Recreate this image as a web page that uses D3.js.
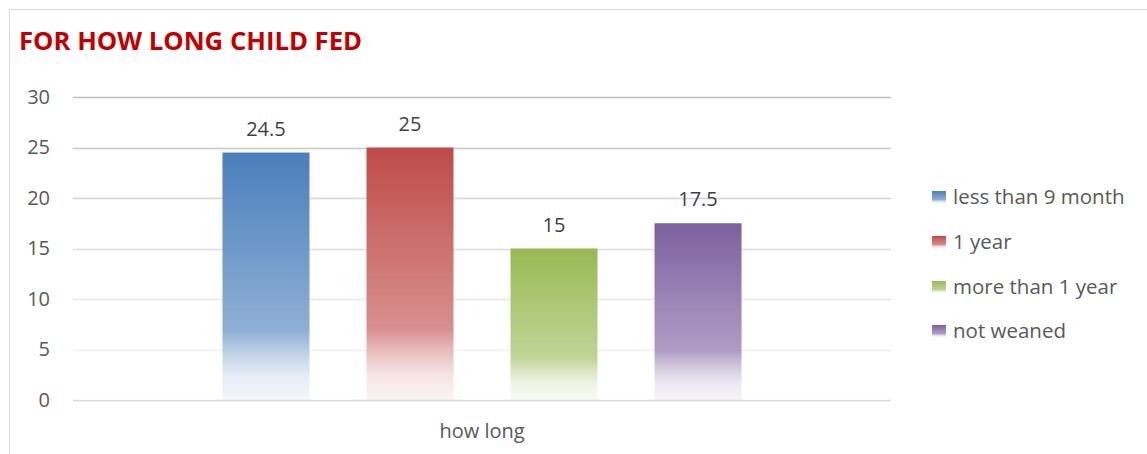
<!DOCTYPE html>
<html>
<head>
<meta charset="utf-8">
<script src="https://cdn.jsdelivr.net/npm/d3@7"></script>
<style>
  html, body { margin: 0; padding: 0; background: #fff; }
  svg { display: block; }
</style>
</head>
<body>
<svg id="chart" width="1147" height="454"></svg>
<script>
// Data
const categories = ["how long"];
const seriesNames = ["less than 9 month", "1 year", "more than 1 year", "not weaned"];
const seriesValues = [24.5, 25, 15, 17.5];
const seriesColors = ["#4a7ebb", "#be4b48", "#98b954", "#7d60a0"];
const yTicks = [0, 5, 10, 15, 20, 25, 30];

const svg = d3.select("#chart");
const W = 1147, H = 454;
const font = "'Open Sans', sans-serif";
const labelSize = 20;

// Chart frame
svg.append("path")
  .attr("d", `M9.5,${H} V9.5 H${W}`)
  .attr("fill", "none")
  .attr("stroke", "#d9d9d9")
  .attr("stroke-width", 1);

// Title
svg.append("text")
  .attr("x", 19).attr("y", 50)
  .attr("font-family", font)
  .attr("font-weight", 700)
  .attr("font-size", 25.7)
  .attr("fill", "#c00000")
  .text("FOR HOW LONG CHILD FED");

const plot = { left: 73, right: 891, top: 97, bottom: 400 };

const y = d3.scaleLinear().domain([0, 30]).range([plot.bottom, plot.top]);
const x0 = d3.scaleBand().domain(categories).range([plot.left, plot.right]).paddingOuter(0.288).paddingInner(0);
const x1 = d3.scaleBand().domain(seriesNames).range([0, x0.bandwidth()]).paddingInner(0.396).paddingOuter(0);

// Gridlines, shading from darker at the top to lighter near the base
const gridColor = d3.scaleLinear().domain([30, 5]).range(["#bfbfbf", "#f0f0f0"]);
const grid = svg.append("g");
grid.selectAll("line").data(yTicks.filter(t => t > 0)).join("line")
  .attr("x1", plot.left).attr("x2", plot.right)
  .attr("y1", d => Math.round(y(d)) + 0.5).attr("y2", d => Math.round(y(d)) + 0.5)
  .attr("stroke", d => gridColor(d))
  .attr("stroke-width", 1.5);

// Y axis labels
const yAxis = d3.axisLeft(y).tickValues(yTicks).tickSize(0).tickPadding(0);
const gy = svg.append("g").attr("transform", `translate(50,0)`).call(yAxis);
gy.select(".domain").remove();
gy.selectAll("text")
  .attr("font-family", font).attr("font-size", labelSize).attr("fill", "#595959");

// Gradients for bars
const defs = svg.append("defs");
seriesColors.forEach((c, i) => {
  const g = defs.append("linearGradient").attr("id", "grad" + i)
    .attr("x1", 0).attr("y1", 0).attr("x2", 0).attr("y2", 1);
  const mix = (t) => d3.interpolateRgb(c, "#ffffff")(t);
  g.append("stop").attr("offset", "0%").attr("stop-color", c);
  g.append("stop").attr("offset", "72%").attr("stop-color", mix(0.38));
  g.append("stop").attr("offset", "80%").attr("stop-color", mix(0.62));
  g.append("stop").attr("offset", "90%").attr("stop-color", mix(0.85));
  g.append("stop").attr("offset", "100%").attr("stop-color", mix(0.94));
});

// Bars
const barG = svg.append("g").attr("transform", `translate(${x0(categories[0])},0)`);
const rows = seriesNames.map((n, i) => ({ name: n, value: seriesValues[i], idx: i }));
barG.selectAll("rect").data(rows).join("rect")
  .attr("x", d => x1(d.name))
  .attr("width", x1.bandwidth())
  .attr("y", d => y(d.value))
  .attr("height", d => y(0) - y(d.value))
  .attr("fill", d => `url(#grad${d.idx})`);

// Value labels
barG.selectAll("text.val").data(rows).join("text")
  .attr("class", "val")
  .attr("x", d => x1(d.name) + x1.bandwidth() / 2)
  .attr("y", d => y(d.value) - 17)
  .attr("text-anchor", "middle")
  .attr("font-family", font).attr("font-size", labelSize).attr("fill", "#404040")
  .text(d => d.value);

// Base axis line
svg.append("line")
  .attr("x1", plot.left).attr("x2", plot.right)
  .attr("y1", y(0) + 0.5).attr("y2", y(0) + 0.5)
  .attr("stroke", "#d9d9d9").attr("stroke-width", 1.5);

// Category label
const xAxis = d3.axisBottom(x0).tickSize(0).tickPadding(0);
const gx = svg.append("g").attr("transform", `translate(0,${y(0) + 24})`).call(xAxis);
gx.select(".domain").remove();
gx.selectAll("text")
  .attr("font-family", font).attr("font-size", labelSize).attr("fill", "#595959");

// Legend
const legend = svg.append("g").attr("transform", "translate(932,0)");
const legendY = [197, 242, 287, 331];
rows.forEach((d, i) => {
  const row = legend.append("g").attr("transform", `translate(0,${legendY[i]})`);
  row.append("rect").attr("x", 0).attr("y", -6).attr("width", 14).attr("height", 12)
    .attr("fill", `url(#grad${i})`);
  row.append("text").attr("x", 21).attr("y", 0).attr("dy", "0.35em")
    .attr("font-family", font).attr("font-size", 20.5).attr("fill", "#595959")
    .text(d.name);
});
</script>
</body>
</html>
